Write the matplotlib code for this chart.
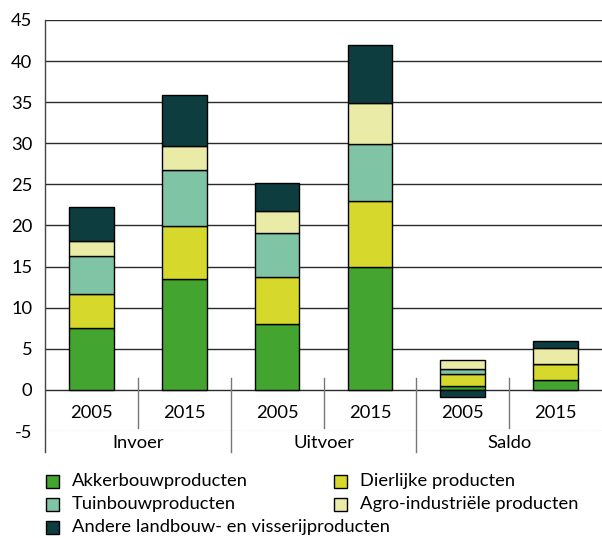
import matplotlib
matplotlib.use("Agg")
import matplotlib.pyplot as plt
from matplotlib.patches import Rectangle
import numpy as np

plt.rcParams["font.family"] = ["Lato", "DejaVu Sans"]

years = ["2005", "2015", "2005", "2015", "2005", "2015"]
groups = ["Invoer", "Uitvoer", "Saldo"]
series = [
    "Akkerbouwproducten",
    "Tuinbouwproducten",
    "Andere landbouw- en visserijproducten",
    "Dierlijke producten",
    "Agro-industriële producten",
]
# values per bar, in stacking order
akker = [7.5, 13.5, 8.0, 15.0, 0.5, 1.2]
dier = [4.2, 6.4, 5.7, 8.0, 1.4, 2.0]
tuin = [4.6, 6.8, 5.4, 6.9, 0.6, 0.0]
agro = [1.8, 3.0, 2.7, 5.0, 1.1, 1.9]
andere = [4.1, 6.2, 3.4, 7.0, -0.9, 0.9]

colors = {
    "akker": "#43a42f",
    "dier": "#d6d92b",
    "tuin": "#80c4a6",
    "agro": "#e9eba7",
    "andere": "#0e3d3f",
}

fs = 13.2
fig = plt.figure(figsize=(6.02, 5.38), dpi=100)
W, H = 602, 538
ax = fig.add_axes([45 / W, (H - 431) / H, 557 / W, 411 / H])

x = np.arange(len(years))
bw = 0.48
pos = np.zeros(len(x))
neg = np.zeros(len(x))
for vals, key in [(akker, "akker"), (dier, "dier"), (tuin, "tuin"),
                  (agro, "agro"), (andere, "andere")]:
    v = np.array(vals)
    base = np.where(v >= 0, pos, neg)
    ax.bar(x, v, bw, bottom=base, color=colors[key], edgecolor="black",
           linewidth=1, zorder=3)
    pos = np.where(v >= 0, pos + v, pos)
    neg = np.where(v < 0, neg + v, neg)

ax.set_xlim(-0.5, 5.5)
ax.set_ylim(-5, 45)
ax.set_yticks(range(-5, 50, 5))
ax.set_yticklabels([str(t) for t in range(-5, 50, 5)], fontsize=fs)
ax.tick_params(axis="y", length=0, pad=9)
ax.set_xticks([])
for t in range(0, 50, 5):
    ax.axhline(t, color="#2a2a2a", lw=1, zorder=1)
ax.axhline(-5, color="#333333", lw=0.8, ls=(0, (1, 1)), zorder=1)
for s in ["top", "right", "bottom", "left"]:
    ax.spines[s].set_visible(False)

# left edge and separators
ax.plot([-0.5, -0.5], [45, -7.6], color="#444444", lw=1, clip_on=False)
for sx in [0.5, 2.5, 4.5]:
    ax.plot([sx, sx], [1.4, -4.6], color="#777777", lw=1, clip_on=False)
for sx in [1.5, 3.5]:
    ax.plot([sx, sx], [1.4, -7.6], color="#777777", lw=1, clip_on=False)

for i, yr in enumerate(years):
    ax.text(i, -2.85, yr, ha="center", va="center", fontsize=fs)
for i, g in enumerate(groups):
    ax.text(2 * i + 0.5, -6.4, g, ha="center", va="center", fontsize=fs)

# legend
leg_items = [
    (46, 481, "akker", series[0]),
    (46, 504, "tuin", series[1]),
    (46, 527, "andere", series[2]),
    (334, 481, "dier", series[3]),
    (334, 504, "agro", series[4]),
]
for lx, ly, key, label in leg_items:
    fig.add_artist(Rectangle((lx / W, (H - ly - 7) / H), 13 / W, 13 / H,
                             facecolor=colors[key], edgecolor="black",
                             lw=1, transform=fig.transFigure))
    fig.text((lx + 26) / W, (H - ly) / H, label, ha="left", va="center",
             fontsize=fs)

fig.savefig("out.png", dpi=100)
